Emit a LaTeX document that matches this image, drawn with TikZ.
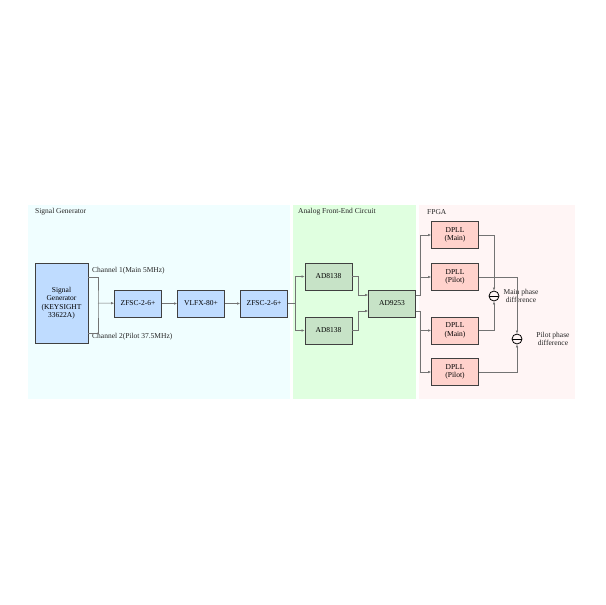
\documentclass[tikz,border=0pt]{standalone}
\usepackage{fontspec}
\setmainfont{Liberation Serif}
\usetikzlibrary{arrows.meta}
\begin{document}
\begin{tikzpicture}[x=1pt,y=-1pt,font=\fontsize{7.5}{8.5}\selectfont,
 box/.style={draw=black!75,line width=0.8pt,minimum width=47pt,minimum height=27pt,inner sep=1pt,align=center},
 bb/.style={box,fill=blue!55!cyan!25!white},
 gb/.style={box,fill=green!50!black!22!white},
 ob/.style={box,fill=orange!25!red!20!white},
 ln/.style={draw=black!55,line width=0.5pt},
 ar/.style={ln,-{Latex[length=3pt,width=2.5pt]}},
 lab/.style={inner sep=0pt,anchor=west,text=black!85}]
\useasboundingbox (0,0) rectangle (605,605);
\fill[blue!8!cyan!6!white] (28,205) rectangle (290,399);
\fill[green!12!white] (293,205) rectangle (416,399);
\fill[orange!12!red!4!white] (419,205) rectangle (575,399);
\node[lab] (tsg) at (35,212) {Signal Generator};
\node[lab] (tafe) at (298,212) {Analog Front-End Circuit};
\node[lab] (tfp) at (427,212) {FPGA};
\node[bb,minimum width=53pt,minimum height=80pt] (sg) at (61.5,303) {Signal\\Generator\\(KEYSIGHT\\33622A)};
\node[bb] (z1) at (138,303.5) {ZFSC-2-6+};
\node[bb] (v) at (201,303.5) {VLFX-80+};
\node[bb] (z2) at (264,303.5) {ZFSC-2-6+};
\node[gb] (a1) at (328.5,276.5) {AD8138};
\node[gb] (a2) at (328.5,330.5) {AD8138};
\node[gb] (adc) at (392,303.5) {AD9253};
\node[ob] (d1) at (455,235) {DPLL\\(Main)};
\node[ob] (d2) at (455,277) {DPLL\\(Pilot)};
\node[ob] (d3) at (455,330.5) {DPLL\\(Main)};
\node[ob] (d4) at (455,372) {DPLL\\(Pilot)};
\node[draw=black,line width=0.8pt,circle,minimum size=10pt,inner sep=0pt,path picture={\draw (path picture bounding box.west)--(path picture bounding box.east);}] (c1) at (494,296) {};
\node[draw=black,line width=0.8pt,circle,minimum size=10pt,inner sep=0pt,path picture={\draw (path picture bounding box.west)--(path picture bounding box.east);}] (c2) at (517,339) {};
\node[lab] (l1) at (92,271) {Channel 1(Main 5MHz)};
\node[lab] (l2) at (92,337) {Channel 2(Pilot 37.5MHz)};
\node[lab,align=center,anchor=center] (m) at (521,296) {Main phase\\difference};
\node[lab,align=center,anchor=center] (p) at (553,339) {Pilot phase\\difference};
\coordinate (j) at (98,303);
\draw[ln] (sg.east|-0,277) -| (j) |- (sg.east|-0,333);
\draw[ar] (j) -- (z1);
\draw[ar] (z1) -- (v);
\draw[ar] (v) -- (z2);
\draw[ln] (z2.east) -- (295,303.5);
\draw[ar] (295,303.5) |- (a1.west);
\draw[ar] (295,303.5) |- (a2.west);
\draw[ar] (a1.east) -| (358,295) -- (adc.west|-0,295);
\draw[ar] (a2.east) -| (358,311) -- (adc.west|-0,311);
\draw[ar] (adc.east|-0,295) -| (420,235) -- (d1.west);
\draw[ar] (420,277) -- (d2.west);
\draw[ar] (adc.east|-0,311) -| (420,372) -- (d4.west);
\draw[ar] (420,330.5) -- (d3.west);
\draw[ar] (d1.east) -| (c1.north);
\draw[ar] (d3.east) -| (c1.south);
\draw[ar] (d2.east) -| (c2.north);
\draw[ar] (d4.east) -| (c2.south);
\end{tikzpicture}
\end{document}
